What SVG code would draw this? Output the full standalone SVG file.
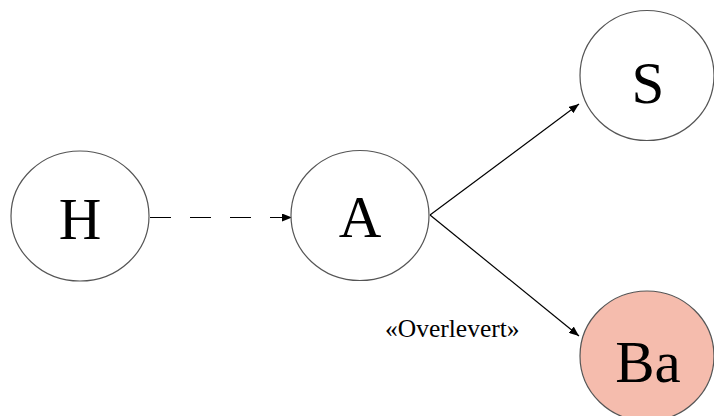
<svg xmlns="http://www.w3.org/2000/svg" width="714" height="416" viewBox="0 0 714 416">
<defs>
<marker id="arr" viewBox="0 0 10 8" refX="10" refY="4" markerWidth="10" markerHeight="8" markerUnits="userSpaceOnUse" orient="auto">
<path d="M0,0 L10,4 L0,8 Z" fill="#000"/>
</marker>
<style>
.node{fill:#fff;stroke:#555;stroke-width:1.2}
.lbl{font-family:"Liberation Serif","Times New Roman",serif;font-size:59px;fill:#000;text-anchor:middle}
.edge{stroke:#000;stroke-width:1.2;fill:none}
.note{font-family:"Liberation Serif","Times New Roman",serif;font-size:25.5px;fill:#000}
</style>
</defs>
<rect width="714" height="416" fill="#fff"/>
<g id="connectors">
<line class="edge" x1="150" y1="217.5" x2="292" y2="217.5" stroke-dasharray="21,19" marker-end="url(#arr)"/>
<line class="edge" x1="430" y1="215" x2="579" y2="104" marker-end="url(#arr)"/>
<line class="edge" x1="430" y1="215" x2="579" y2="336" marker-end="url(#arr)"/>
</g>
<g id="H">
<ellipse class="node" cx="80" cy="216" rx="69" ry="65"/>
<text class="lbl" x="80" y="239">H</text>
</g>
<g id="A">
<ellipse class="node" cx="360" cy="215.5" rx="69" ry="65"/>
<text class="lbl" x="360" y="237">A</text>
</g>
<g id="S">
<ellipse class="node" cx="647" cy="75.5" rx="67" ry="65"/>
<text class="lbl" x="648" y="103">S</text>
</g>
<g id="Ba">
<ellipse class="node" cx="647" cy="356" rx="67" ry="65" style="fill:#F5BCAD"/>
<text class="lbl" x="648" y="382">Ba</text>
</g>
<text class="note" x="385" y="337">«Overlevert»</text>
</svg>
